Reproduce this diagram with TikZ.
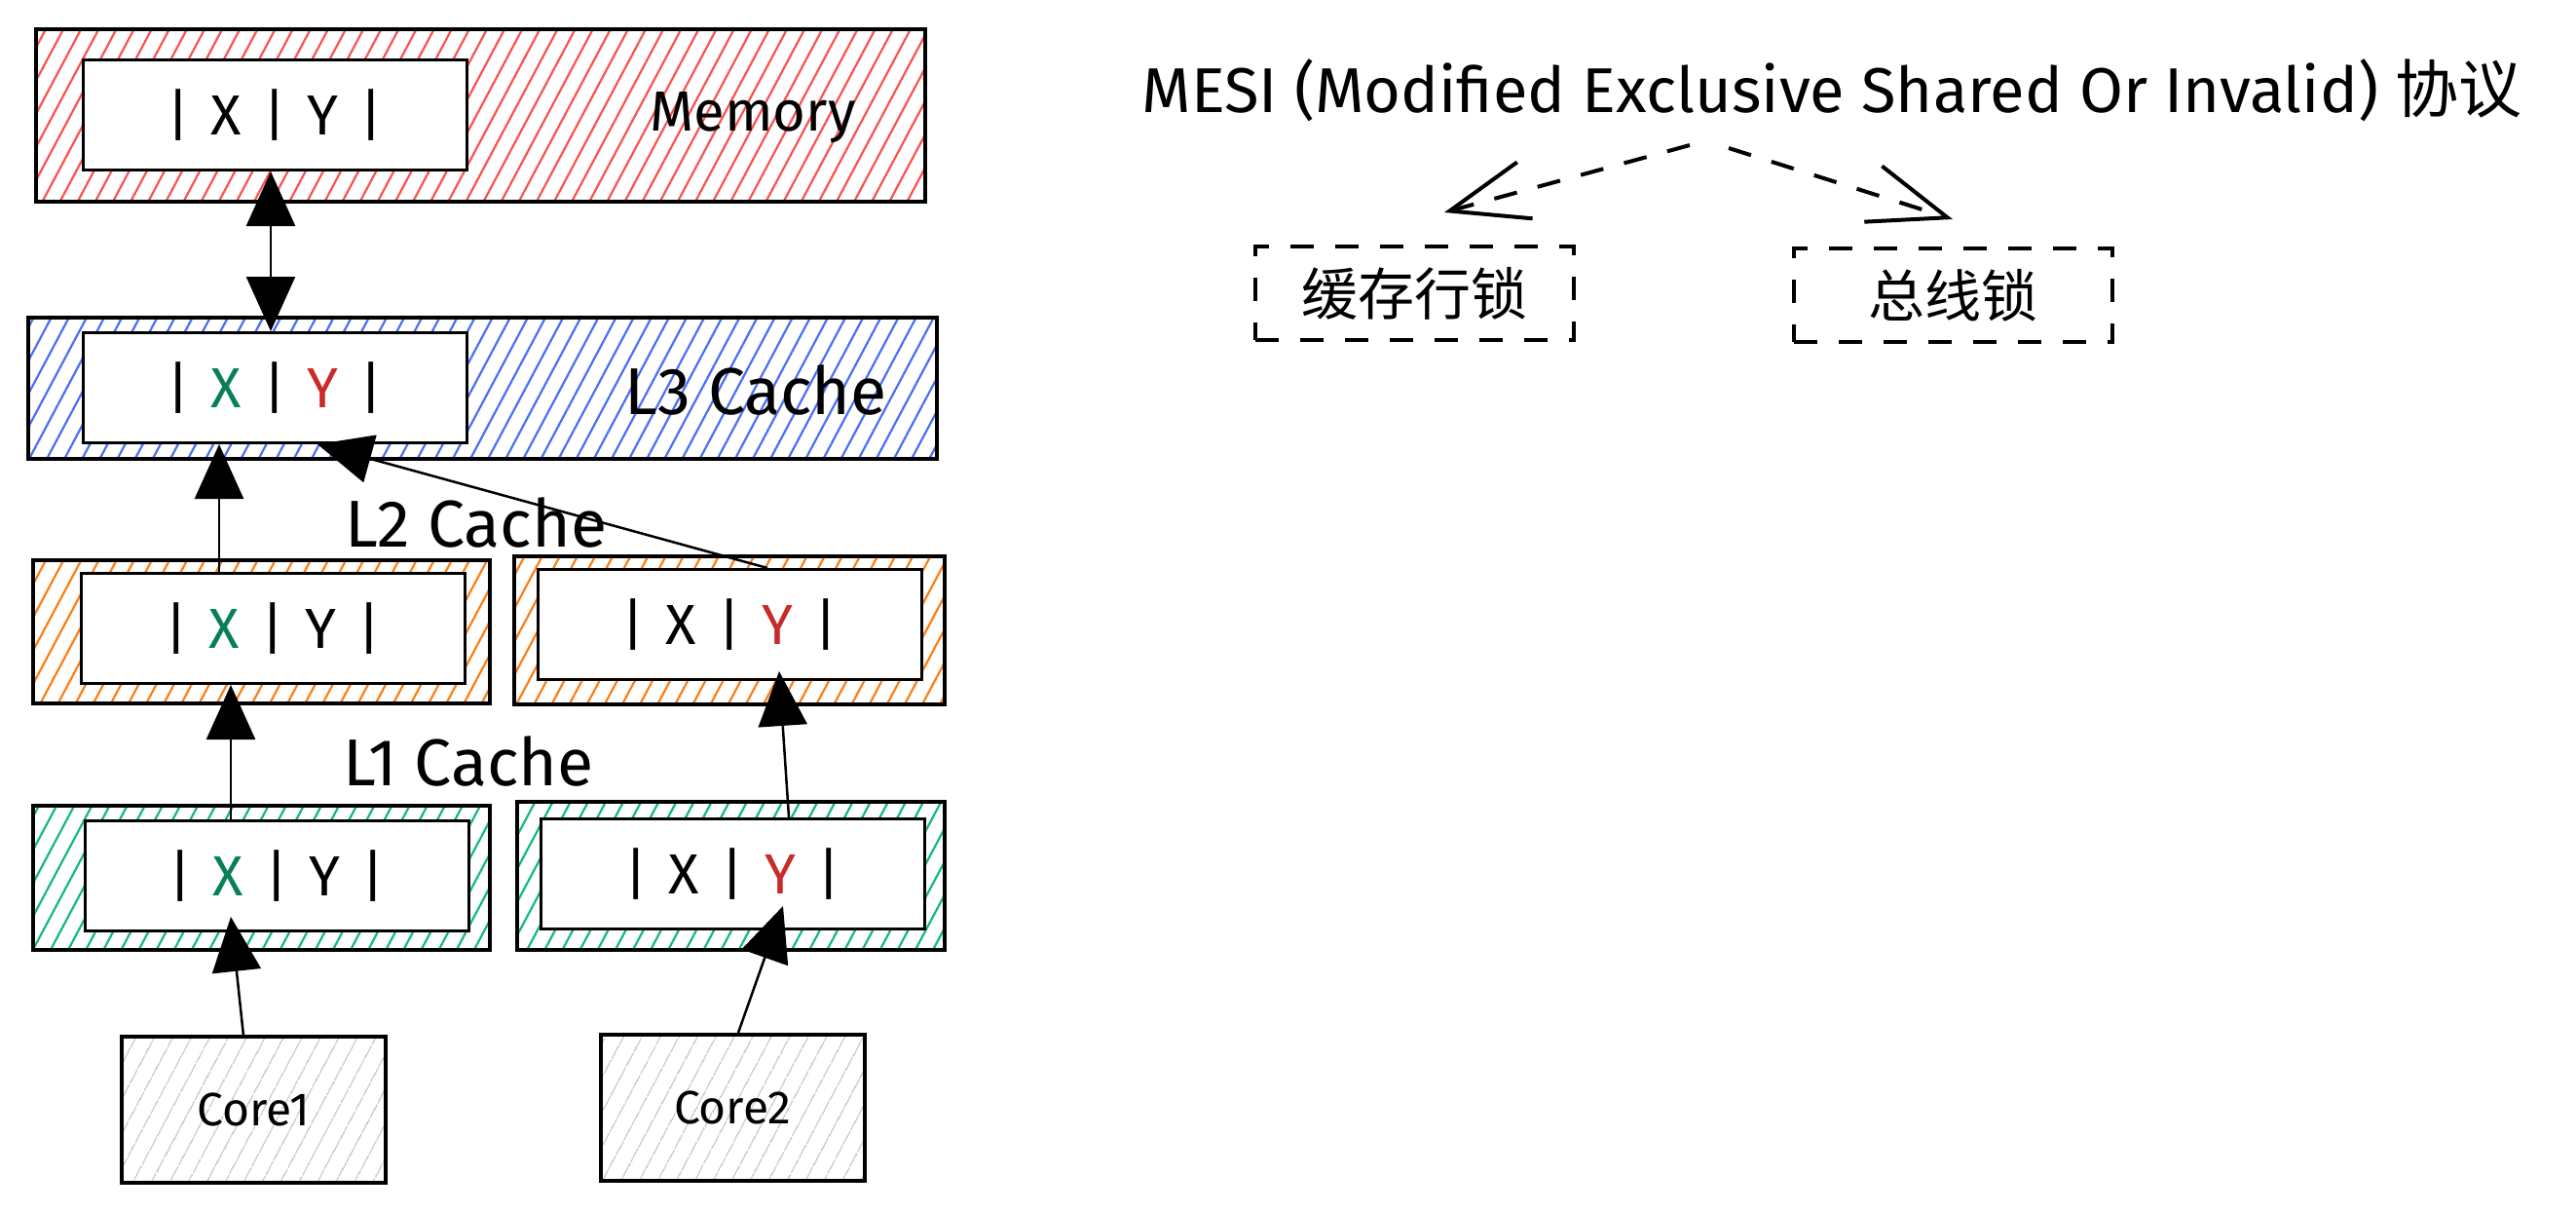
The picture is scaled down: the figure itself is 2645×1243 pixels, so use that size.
\documentclass[tikz,border=0pt]{standalone}
\usepackage{fontspec}
\setmainfont{Fira Sans}
\newfontfamily\cjkfont{Noto Sans CJK SC}
\usetikzlibrary{arrows.meta, patterns.meta}
\definecolor{memred}{RGB}{250,82,82}
\definecolor{l3blue}{RGB}{76,110,245}
\definecolor{l2orange}{RGB}{253,126,20}
\definecolor{l1green}{RGB}{18,184,134}
\definecolor{coregray}{RGB}{200,206,212}
\definecolor{xgreen}{RGB}{8,127,91}
\definecolor{yred}{RGB}{201,42,42}
\newcommand{\bigfont}{\fontsize{58}{66}\selectfont}
\newcommand{\cachefont}{\fontsize{68}{76}\selectfont}
\newcommand{\titlefont}{\fontsize{65}{72}\selectfont}
\newcommand{\corefont}{\fontsize{48}{54}\selectfont}
\newcommand{\xyrow}[2]{|\hspace{22pt}\textcolor{#1}{X}\hspace{22pt}|\hspace{22pt}\textcolor{#2}{Y}\hspace{22pt}|}
\tikzset{
  tier/.style={draw,line width=4pt,pattern={Lines[angle=62,distance=16pt,line width=2.2pt]}},
  cell/.style={draw,fill=white,line width=3pt,minimum width=394pt,minimum height=113pt,inner sep=0pt,font=\bigfont},
  core/.style={draw,line width=4pt,pattern={Lines[angle=62,distance=17pt,line width=1.8pt]},pattern color=coregray,minimum width=271pt,minimum height=150pt,font=\corefont},
  lock/.style={draw,line width=4pt,dash pattern=on 24pt off 22pt,minimum width=327pt,minimum height=96pt,font=\bigfont\cjkfont},
  tiertext/.style={font=\cachefont},
  line/.style={-{Triangle[length=56pt,width=50pt]},line width=2.5pt},
  both/.style={{Triangle[length=56pt,width=50pt]}-{Triangle[length=56pt,width=50pt]},line width=2.5pt},
  dashline/.style={-{Straight Barb[length=80pt,width=60pt]},line width=4pt,dash pattern=on 24pt off 22pt}
}

\begin{document}
\begin{tikzpicture}[x=1pt,y=-1pt]
\useasboundingbox (0,0) rectangle (2645,1243);
% memory and L3
\node[tier,pattern color=memred,minimum width=913pt,minimum height=177pt] (mem) at (493,118) {};
\node[cell] (memX) at (282,118) {\xyrow{black}{black}};
\node[font=\bigfont] (memtext) at (773,121) {Memory};
\node[tier,pattern color=l3blue,minimum width=933pt,minimum height=145pt] (l3) at (495,398) {};
\node[cell] (l3X) at (282,398) {\xyrow{xgreen}{yred}};
\node[tiertext] (l3text) at (776,400) {L3 Cache};
% L2 and L1, one per core
\node[tier,pattern color=l2orange,minimum width=469pt,minimum height=147pt] (l2a) at (268,648) {};
\node[cell] (l2aX) at (280,645) {\xyrow{xgreen}{black}};
\node[tier,pattern color=l2orange,minimum width=442pt,minimum height=152pt] (l2b) at (749,647) {};
\node[cell] (l2bX) at (749,641) {\xyrow{black}{yred}};
\node[tiertext] (l2text) at (489,536) {L2 Cache};
\node[tier,pattern color=l1green,minimum width=469pt,minimum height=148pt] (l1a) at (268,901) {};
\node[cell] (l1aX) at (284,899) {\xyrow{xgreen}{black}};
\node[tier,pattern color=l1green,minimum width=439pt,minimum height=152pt] (l1b) at (750,899) {};
\node[cell] (l1bX) at (752,897) {\xyrow{black}{yred}};
\node[tiertext] (l1text) at (481,781) {L1 Cache};
\node[core] (core1) at (260,1139) {Core1};
\node[core] (core2) at (752,1137) {Core2};
\draw[both] ([xshift=-4pt]memX.south) -- ([xshift=-4pt]memX.south |- l3X.north);
\draw[line] ([xshift=-55pt]l2aX.north) -- ([xshift=-55pt]l2aX.north |- l3X.south);
\draw[line] ([xshift=39pt]l2bX.north) -- ([xshift=44pt]l3X.south);
\draw[line] ([xshift=-47pt]l1aX.north) -- ([xshift=-43pt]l2aX.south);
\draw[line] ([xshift=58pt]l1bX.north) -- ([xshift=51pt,yshift=10pt]l2bX.south);
\draw[line] ([xshift=-10pt]core1.north) -- ([xshift=-47pt,yshift=16pt]l1aX.south);
\draw[line] ([xshift=6pt]core2.north) -- ([xshift=52pt,yshift=25pt]l1bX.south);
% MESI
\node[font=\titlefont] (mesi) at (1881,93) {MESI (Modified Exclusive Shared Or Invalid) {\cjkfont 协议}};
\node[lock] (cacheline) at (1452,301) {缓存行锁};
\node[lock] (busline) at (2005,303) {总线锁};
\coordinate (splitL) at (1735,149);
\coordinate (splitR) at (1775,152);
\draw[dashline] (splitL) -- ([xshift=31pt,yshift=33pt]cacheline.north);
\draw[dashline] (splitR) -- ([yshift=28pt]busline.north);
\end{tikzpicture}
\end{document}
